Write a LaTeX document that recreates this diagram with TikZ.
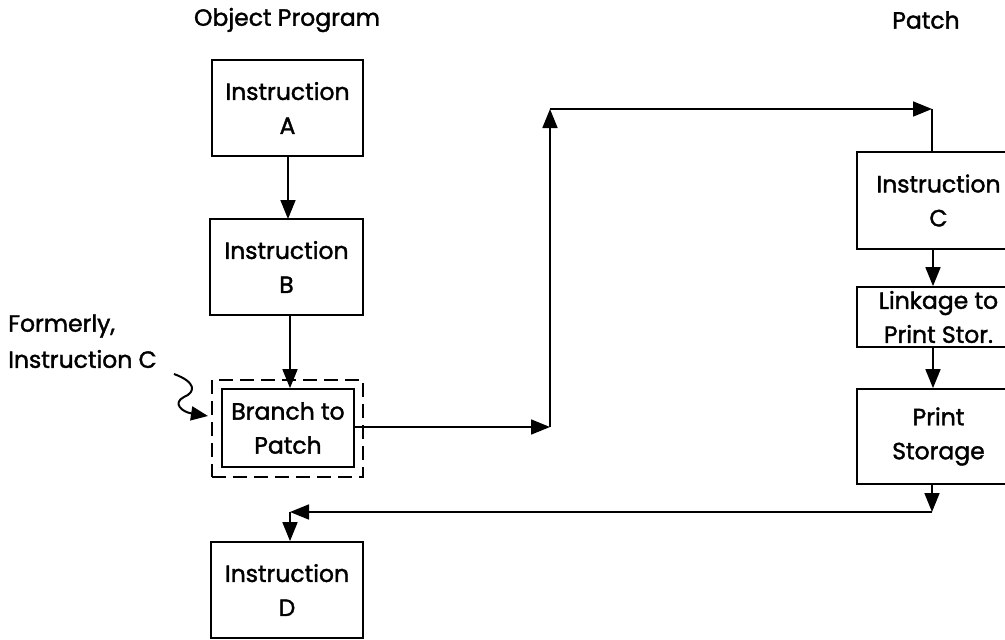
\documentclass[tikz,border=0pt]{standalone}
\usepackage{fontspec}
\setmainfont{Poppins}[FakeBold=1.6]
\usetikzlibrary{arrows.meta}
\begin{document}
\begin{tikzpicture}[x=1pt,y=-1pt,
  every node/.style={font=\fontsize{23.5}{34}\selectfont},
  box/.style={draw,line width=1.7pt,rectangle,inner sep=0pt,align=center},
  conn/.style={line width=1.7pt},
  tip/.style={conn,-{Triangle[length=19pt,width=15pt]}},
  lbl/.style={align=left,inner sep=0pt}]
\useasboundingbox (0,0) rectangle (1005,640);
\begin{scope}
\clip (0,0) rectangle (1005,640);
% titles
\node (t1) at (287,20) {Object Program};
\node (t2) at (926,20) {Patch};
% object program column
\node[box,minimum width=151pt,minimum height=96pt] (A) at (287.5,108) {Instruction\\A};
\node[box,minimum width=153pt,minimum height=96pt] (B) at (286.5,267) {Instruction\\B};
\node[draw,line width=1.7pt,dash pattern=on 14pt off 7pt,minimum width=151pt,minimum height=97pt,inner sep=0pt] (dash) at (287.5,428.5) {};
\node[box,minimum width=132pt,minimum height=78pt] (br) at (288,428) {Branch to\\Patch};
\node[box,minimum width=152pt,minimum height=96pt] (D) at (287,590) {Instruction\\D};
% patch column
\node[box,minimum width=163pt,minimum height=97pt] (C) at (938.5,200.5) {Instruction\\C};
\node[box,minimum width=163pt,minimum height=60pt] (L) at (938.5,317) {Linkage to\\Print Stor.};
\node[box,minimum width=163pt,minimum height=95pt] (P) at (938.5,436.5) {Print\\Storage};
% label
\node[lbl,anchor=west] (f1) at (8,326) {Formerly,};
\node[lbl,anchor=west] (f2) at (8,359) {Instruction C};
% coordinates
\coordinate (j1) at (550,427);
\coordinate (j2) at (550,109);
\coordinate (j3) at (932,109);
\coordinate (k1) at (932,512);
\coordinate (k2) at (290,512);
\coordinate (s0) at (174,374);
% connectors
\draw[tip] (288,156) -- (288,219);
\draw[tip] (290,315) -- (br.north -| 290,0);
\draw[tip] (br.east |- j1) -- (j1);
\draw[tip] (j1) -- (j2);
\draw[tip] (j2) -- (j3);
\draw[conn] (j3) -- (C.north -| j3);
\draw[tip] (C.south -| 933,0) -- (L.north -| 933,0);
\draw[tip] (L.south -| 933,0) -- (P.north -| 933,0);
\draw[tip] (P.south -| k1) -- (k1);
\draw[tip] (k1) -- (k2);
\draw[tip] (k2) -- (D.north -| k2);
\draw[conn,line width=2pt,-{Triangle[length=17pt,width=14pt]}] (s0) .. controls (196,382) and (196,392) .. (184,397)
  .. controls (172,403) and (182,412) .. (208,416);
\end{scope}
\end{tikzpicture}
\end{document}
